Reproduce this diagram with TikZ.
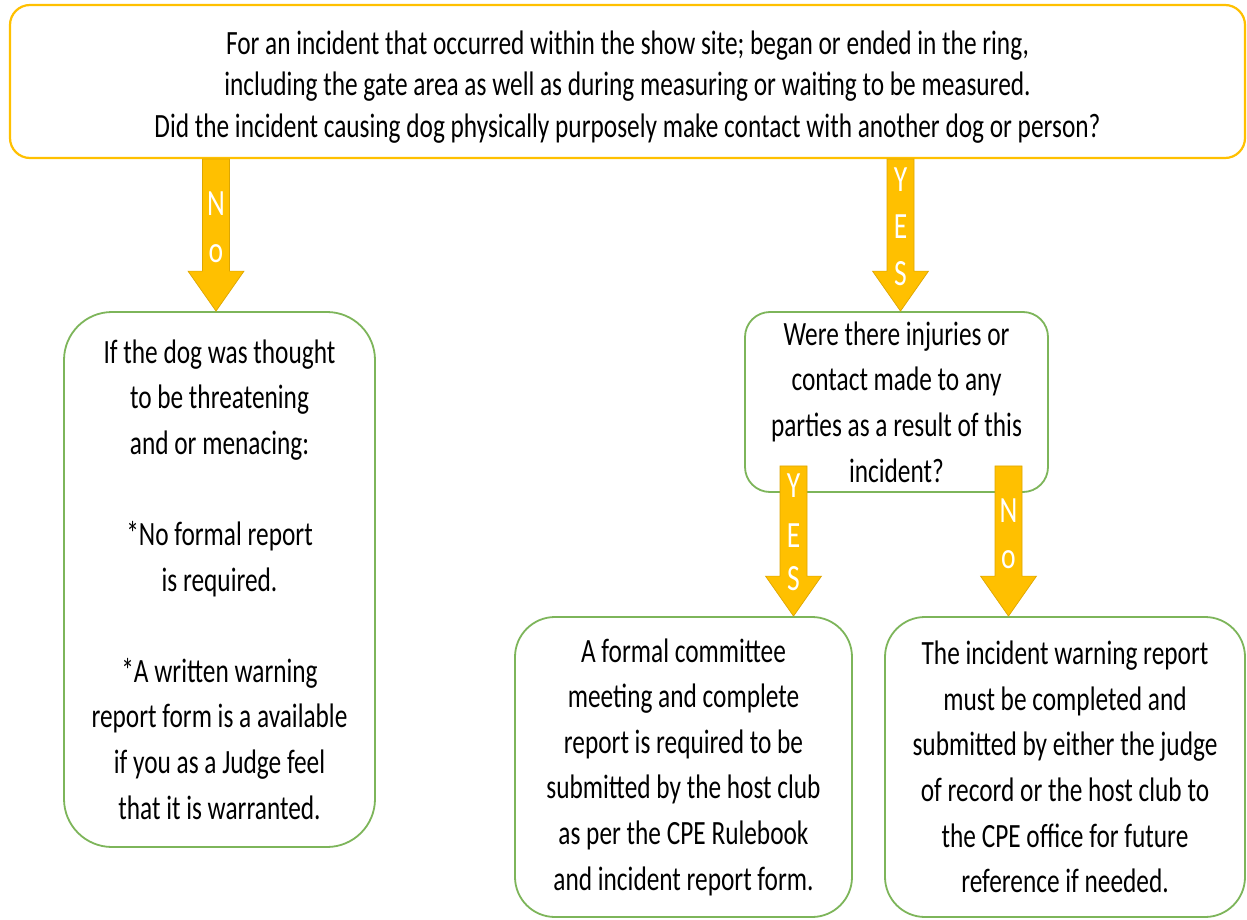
\documentclass[tikz,border=0pt]{standalone}
\usepackage{fontspec}
\setmainfont{Carlito}[FakeStretch=0.745]
\usetikzlibrary{calc}
\definecolor{gold}{HTML}{FFC000}
\definecolor{goldedge}{HTML}{DDA600}
\definecolor{leaf}{HTML}{7DB55A}
\tikzset{
  topbox/.style={draw=gold, line width=2.2pt, rounded corners=20pt, align=center, inner sep=0pt,
    font=\fontsize{34}{41.5}\selectfont},
  greenbox/.style={draw=leaf, line width=1.8pt, align=center, inner sep=0pt,
    font=\fontsize{34}{45.6}\selectfont},
  blockarr/.style={fill=gold, draw=goldedge, line width=0.7pt},
  arrletter/.style={text=white, font=\fontsize{37}{37}\selectfont, inner sep=0pt, anchor=base}
}
\newcommand\blockarrow[2]{%
  \path[blockarr] let \p1=#1, \p2=#2 in
    (\x2-13.5pt,\y1) -- (\x2+13.5pt,\y1) -- (\x2+13.5pt,\y2+40pt) -- (\x2+28pt,\y2+40pt)
    -- (\x2,\y2) -- (\x2-28pt,\y2+40pt) -- (\x2-13.5pt,\y2+40pt) -- cycle;}
\begin{document}
\begin{tikzpicture}[x=1pt,y=-1pt]
\useasboundingbox (0,0) rectangle (1247,920);
\fill[white] (0,0) rectangle (1247,920);
% boxes
\node[topbox, minimum width=1235pt, minimum height=153pt] (top) at (627.5,81.5)
  {\rule{0pt}{34pt}For an incident that occurred within the show site; began or ended in the ring,\\
   including the gate area as well as during measuring or waiting to be measured.\\
   Did the incident causing dog physically purposely make contact with another dog or person?};
\node[greenbox, rounded corners=48pt, minimum width=311pt, minimum height=535pt] (left) at (219.5,579.5)
  {If the dog was thought\\to be threatening\\and or menacing:\\[45.6pt]
   *No formal report\\is required.\\[45.6pt]
   *A written warning\\report form is a available\\if you as a Judge feel\\that it is warranted.};
\node[greenbox, rounded corners=25pt, minimum width=303pt, minimum height=180pt] (mid) at (896.5,402)
  {Were there injuries or\\contact made to any\\parties as a result of this\\incident?};
\node[greenbox, rounded corners=40pt, minimum width=337pt, minimum height=300pt] (bl) at (683.5,767)
  {A formal committee\\meeting and complete\\report is required to be\\submitted by the host club\\as per the CPE Rulebook\\and incident report form.};
\node[greenbox, rounded corners=40pt, minimum width=360pt, minimum height=300pt] (br) at (1065,767)
  {The incident warning report\\must be completed and\\submitted by either the judge\\of record or the host club to\\the CPE office for future\\reference if needed.};
% arrow tips
\coordinate (tipA) at ($(left.north)+(-3.5,0)$);
\coordinate (tipB) at ($(mid.north)+(4,0)$);
\coordinate (tipC) at ($(bl.north)+(110,0)$);
\coordinate (tipD) at ($(br.north)+(-56.5,0)$);
\coordinate (startC) at ($(mid.south -| tipC)+(0,-27)$);
\coordinate (startD) at ($(mid.south -| tipD)+(0,-27)$);
% arrows
\blockarrow{(top.south -| tipA)}{(tipA)}
\blockarrow{(top.south -| tipB)}{(tipB)}
\blockarrow{(startC)}{(tipC)}
\blockarrow{(startD)}{(tipD)}
% arrow letters
\node[arrletter] (aN) at (216,215) {N};
\node[arrletter] (ao) at (216,262) {o};
\node[arrletter] (bY) at (900.5,192) {Y};
\node[arrletter] (bE) at (900.5,238) {E};
\node[arrletter] (bS) at (900.5,285) {S};
\node[arrletter] (cY) at (793.5,497) {Y};
\node[arrletter] (cE) at (793.5,547) {E};
\node[arrletter] (cS) at (793.5,590) {S};
\node[arrletter] (dN) at (1008.5,522) {N};
\node[arrletter] (do) at (1008.5,568) {o};
\end{tikzpicture}
\end{document}
